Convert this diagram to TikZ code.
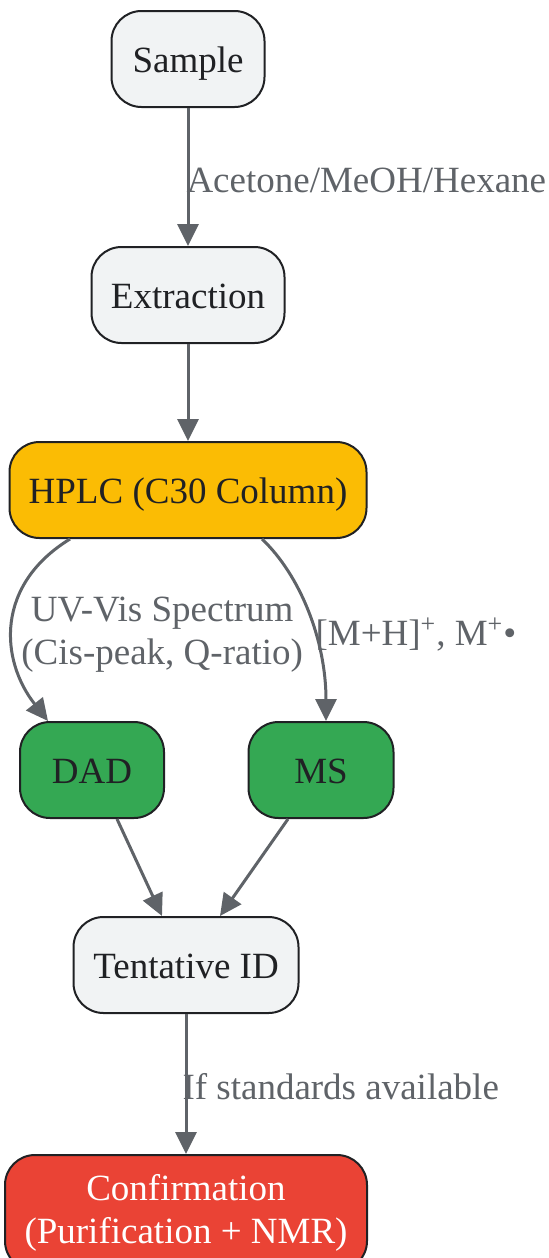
\documentclass[tikz,border=0pt]{standalone}
\usepackage{fontspec}
\setmainfont{Liberation Serif}
\usetikzlibrary{arrows.meta,calc}
\definecolor{boxgray}{HTML}{F1F3F4}
\definecolor{inkdark}{HTML}{202124}
\definecolor{edgegray}{HTML}{5F6368}
\definecolor{hplcyellow}{HTML}{FBBC04}
\definecolor{detgreen}{HTML}{34A853}
\definecolor{confred}{HTML}{EA4335}
\tikzset{
  stage/.style={draw=inkdark, line width=1pt, rounded corners=15pt, fill=boxgray, text=inkdark,
    minimum height=48pt, align=center, font=\fontsize{18.5}{21.5}\selectfont},
  oneline/.style={text height=15pt, text depth=2pt},
  flow/.style={draw=edgegray, line width=1.5pt, -{Triangle[length=11pt,width=10.5pt]}},
  flowlabel/.style={text=edgegray, font=\fontsize{18.5}{21.5}\selectfont, align=center, inner sep=0pt}
}

\begin{document}
\begin{tikzpicture}[x=0.5pt,y=-0.5pt]
    \useasboundingbox (0,0) rectangle (548,1258);
    \node[stage, oneline, minimum width=76.5pt] (S) at (188,59) {Sample};
    \node[stage, oneline, minimum width=96.5pt] (E) at (188,295) {Extraction};
    \node[stage, oneline, minimum width=178.5pt, fill=hplcyellow] (H) at (188,490) {HPLC (C30 Column)};
    \node[stage, oneline, minimum width=72pt, fill=detgreen] (D) at (92,770) {DAD};
    \node[stage, oneline, minimum width=72.5pt, fill=detgreen] (M) at (321,770) {MS};
    \node[stage, oneline, minimum width=112.5pt] (T) at (186,965) {Tentative ID};
    \node[stage, minimum width=181pt, minimum height=58pt, fill=confred, text=white] (C) at (186,1213) {Confirmation\\(Purification + NMR)};
    \draw[flow] (S) -- node[flowlabel, anchor=west, xshift=-1.5pt, yshift=-1.5pt] {Acetone/MeOH/Hexane} (E);
    \draw[flow] (E) -- (H);
    \draw[flow] ($(H.south)+(-118,0)$) .. controls (-5,585) and (0,660) .. node[flowlabel, anchor=west, xshift=3.5pt, yshift=-5pt] {UV-Vis Spectrum\\(Cis-peak, Q-ratio)} ($(D.north)+(-44,0)$);
    \draw[flow] ($(H.south)+(74,0)$) .. controls (300,575) and (326,640) .. node[flowlabel, anchor=west, pos=0.56, xshift=1pt, yshift=-5pt] {[M+H]\textsuperscript{+}, M\textsuperscript{+}•} ($(M.north)+(5,0)$);
    \draw[flow] ($(D.south)+(25,0)$) -- ($(T.north)+(-24,0)$);
    \draw[flow] ($(M.south)+(-33,0)$) -- ($(T.north)+(34,0)$);
    \draw[flow] (T) -- node[flowlabel, anchor=west, xshift=-2.5pt, yshift=-1.5pt] {If standards available} (C);
\end{tikzpicture}
\end{document}
